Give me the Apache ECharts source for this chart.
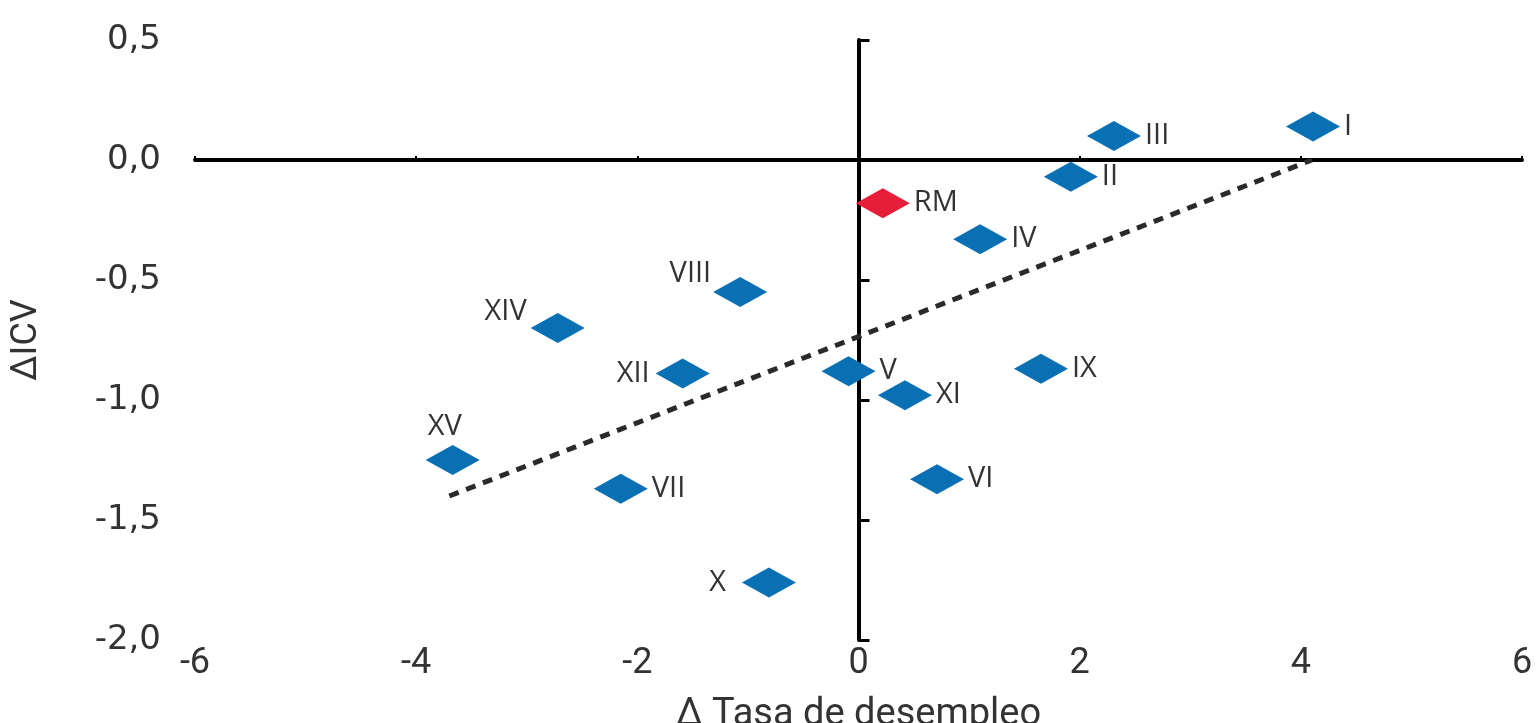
<!DOCTYPE html>
<html>
<head>
<meta charset="utf-8">
<script src="https://cdn.jsdelivr.net/npm/echarts@6/dist/echarts.min.js"></script>
<style>html,body{margin:0;padding:0;background:#fff}#c{width:1536px;height:723px}</style>
</head>
<body>
<div id="c"></div>
<script>
// Data
const regions = ['I','II','III','IV','V','VI','VII','VIII','IX','X','XI','XII','XIV','XV'];
const dUnemp  = [4.11, 1.92, 2.31, 1.10, -0.09, 0.71, -2.15, -1.07, 1.65, -0.81, 0.42, -1.59, -2.72, -3.67];
const dICV    = [0.14, -0.07, 0.10, -0.33, -0.88, -1.33, -1.37, -0.55, -0.87, -1.76, -0.98, -0.89, -0.70, -1.25];
const rmName = ['RM'];
const rmUnemp = [0.22];
const rmICV = [-0.18];
const trendX = [-3.7, 4.1];
const trendY = [-1.40, 0.0];
const xTicks = [-6, -4, -2, 0, 2, 4, 6];
const yTicks = [-2.0, -1.5, -1.0, -0.5, 0.0, 0.5];

// label placement styles
const labelStyle = {
  'VIII': {position: 'left', offset: [2, -18]},
  'XIV':  {position: 'left', offset: [0, -16]},
  'XII':  {position: 'left', offset: [-2, 0]},
  'XV':   {position: 'top', offset: [-8, 0]},
  'X':    {position: 'left', offset: [-12, 0]}
};

const blueData = regions.map((n, i) => {
  const item = {name: n, value: [dUnemp[i], dICV[i]]};
  if (labelStyle[n]) item.label = labelStyle[n];
  return item;
});
const redData = rmName.map((n, i) => ({name: n, value: [rmUnemp[i], rmICV[i]]}));

const chart = echarts.init(document.getElementById('c'), null, {renderer: 'canvas'});
const lblFont = {fontFamily: 'Open Sans', fontSize: 29, color: '#333'};

chart.setOption({
  animation: false,
  grid: {left: 195, right: 14, top: 40, bottom: 83, containLabel: false, outerBoundsMode: 'none'},
  xAxis: [
    {
      type: 'value', min: xTicks[0], max: xTicks[xTicks.length - 1], interval: 2,
      position: 'bottom',
      axisLine: {show: false}, axisTick: {show: false}, splitLine: {show: false},
      axisLabel: {fontFamily: 'Roboto', fontSize: 36, color: '#333', margin: 6},
      name: 'Δ Tasa de desempleo', nameLocation: 'middle', nameGap: 56,
      nameTextStyle: {fontFamily: 'Roboto', fontSize: 38, color: '#333'}
    },
    {
      type: 'value', min: xTicks[0], max: xTicks[xTicks.length - 1], interval: 2,
      axisLine: {show: true, onZero: true, lineStyle: {color: '#000', width: 4}},
      axisTick: {show: true, length: 4, lineStyle: {color: '#000', width: 2}},
      axisLabel: {show: false}, splitLine: {show: false}
    }
  ],
  yAxis: [
    {
      type: 'value', min: yTicks[0], max: yTicks[yTicks.length - 1], interval: 0.5,
      position: 'left',
      axisLine: {show: false}, axisTick: {show: false}, splitLine: {show: false},
      axisLabel: {fontFamily: 'DejaVu Sans', fontSize: 34, color: '#333', margin: 34,
        formatter: v => v.toFixed(1).replace('.', ',')},
      name: 'ΔICV', nameLocation: 'middle', nameGap: 150, nameRotate: 90,
      nameTextStyle: {fontFamily: 'Roboto', fontSize: 36, color: '#333'}
    },
    {
      type: 'value', min: yTicks[0], max: yTicks[yTicks.length - 1], interval: 0.5,
      axisLine: {show: true, onZero: true, lineStyle: {color: '#000', width: 4}},
      axisTick: {show: true, length: 11, lineStyle: {color: '#000', width: 3}},
      axisLabel: {show: false}, splitLine: {show: false}
    }
  ],
  series: [
    {
      type: 'line', xAxisIndex: 0, yAxisIndex: 0,
      data: trendX.map((x, i) => [x, trendY[i]]),
      symbol: 'none', silent: true,
      lineStyle: {color: '#2a2a2a', width: 5, type: [10, 8]},
      z: 3
    },
    {
      type: 'scatter', xAxisIndex: 0, yAxisIndex: 0,
      data: blueData, symbol: 'diamond', symbolSize: [54, 30],
      itemStyle: {color: '#0a70b4', opacity: 1},
      label: Object.assign({show: true, position: 'right', distance: 4, formatter: '{b}'}, lblFont),
      z: 4
    },
    {
      type: 'scatter', xAxisIndex: 0, yAxisIndex: 0,
      data: redData, symbol: 'diamond', symbolSize: [54, 30],
      itemStyle: {color: '#e61e3a', opacity: 1},
      label: Object.assign({show: true, position: 'right', distance: 4, formatter: '{b}'}, lblFont),
      z: 4
    }
  ]
});
</script>
</body>
</html>
